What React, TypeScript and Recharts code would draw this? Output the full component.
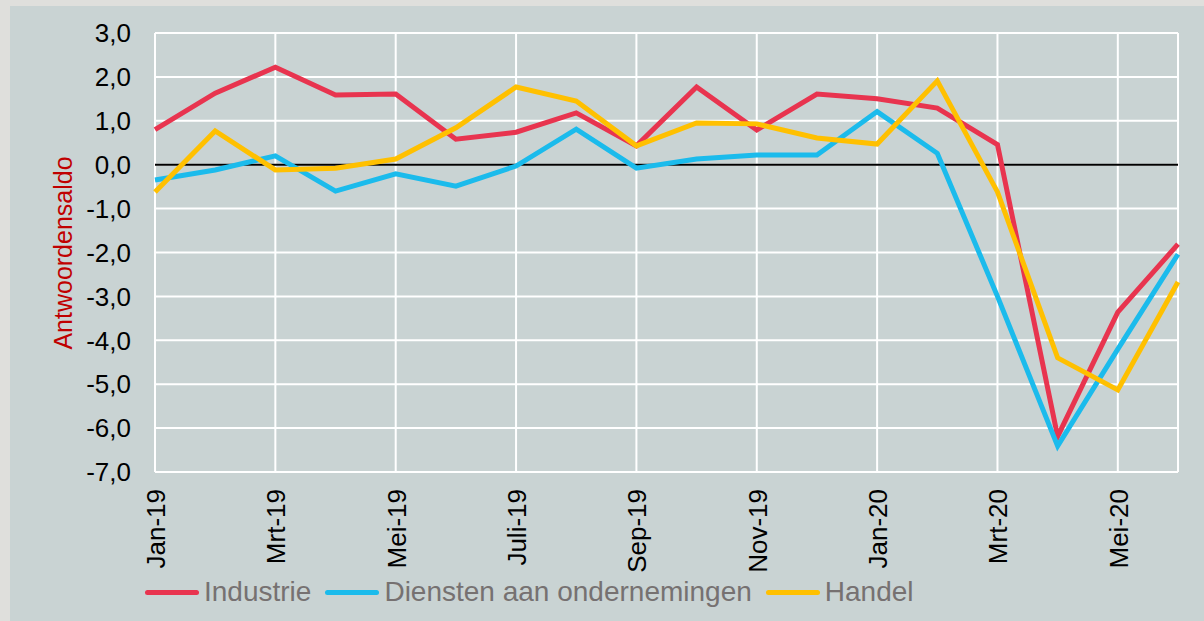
import { LineChart, Line, XAxis, YAxis, CartesianGrid, ReferenceLine } from 'recharts';

const months = [
  'Jan-19', 'Feb-19', 'Mrt-19', 'Apr-19', 'Mei-19', 'Jun-19', 'Juli-19', 'Aug-19', 'Sep-19',
  'Okt-19', 'Nov-19', 'Dec-19', 'Jan-20', 'Feb-20', 'Mrt-20', 'Apr-20', 'Mei-20', 'Jun-20',
];
const industrie = [0.8, 1.63, 2.22, 1.59, 1.61, 0.58, 0.74, 1.18, 0.43, 1.77, 0.79, 1.61, 1.5, 1.29, 0.46, -6.19, -3.36, -1.81];
const diensten = [-0.35, -0.12, 0.2, -0.6, -0.21, -0.49, -0.03, 0.81, -0.08, 0.13, 0.22, 0.22, 1.21, 0.26, -3.0, -6.41, -4.2, -2.04];
const handel = [-0.62, 0.77, -0.12, -0.08, 0.13, 0.84, 1.77, 1.45, 0.43, 0.95, 0.93, 0.61, 0.47, 1.91, -0.62, -4.4, -5.13, -2.67];
const yTicks = [-7, -6, -5, -4, -3, -2, -1, 0, 1, 2, 3];

const series = [
  { key: 'industrie', name: 'Industrie', color: '#e8344f' },
  { key: 'diensten', name: 'Diensten aan ondernemingen', color: '#1bbbec' },
  { key: 'handel', name: 'Handel', color: '#ffc000' },
];

const data = months.map((m, i) => ({
  month: m,
  industrie: industrie[i],
  diensten: diensten[i],
  handel: handel[i],
}));

const FONT = '"Liberation Sans", Arial, sans-serif';

// rotated month label, reading bottom to top
function MonthTick(props: any) {
  const { x, y, payload } = props;
  const tx = x + 10;
  const ty = y + 9;
  return (
    <text
      x={tx}
      y={ty}
      transform={`rotate(-90, ${tx}, ${ty})`}
      textAnchor="end"
      fill="#000"
      fontSize={26}
      fontFamily={FONT}
    >
      {payload.value}
    </text>
  );
}

export default function App() {
  return (
    <div style={{ position: 'absolute', left: 0, top: 0, width: 1204, height: 621, background: '#dfdfdc' }}>
      <div style={{ position: 'absolute', left: 10, top: 6, width: 1194, height: 615, background: '#c9d3d3' }} />
      <div style={{ position: 'absolute', left: 0, top: 0 }}>
        <LineChart width={1204} height={621} data={data} margin={{ top: 33, right: 26, left: 0, bottom: 0 }}>
          <CartesianGrid stroke="#ffffff" strokeWidth={2} />
          <XAxis
            dataKey="month"
            interval={1}
            axisLine={false}
            tickLine={false}
            height={149}
            tick={<MonthTick />}
          />
          <YAxis
            domain={[-7, 3]}
            ticks={yTicks}
            width={155}
            axisLine={false}
            tickLine={false}
            tickMargin={18}
            tick={{ fill: '#000', fontSize: 26, fontFamily: FONT }}
            tickFormatter={(v: number) => v.toFixed(1).replace('.', ',')}
            label={{
              content: () => (
                <text
                  x={72}
                  y={253}
                  transform="rotate(-90, 72, 253)"
                  textAnchor="middle"
                  fill="#c00000"
                  fontSize={25}
                  fontFamily={FONT}
                >
                  Antwoordensaldo
                </text>
              ),
            }}
          />
          <ReferenceLine y={0} stroke="#000" strokeWidth={2} />
          {series.map((s) => (
            <Line
              key={s.key}
              dataKey={s.key}
              name={s.name}
              type="linear"
              stroke={s.color}
              strokeWidth={5}
              dot={false}
              isAnimationActive={false}
            />
          ))}
        </LineChart>
      </div>
      <div
        style={{
          position: 'absolute',
          left: 145,
          top: 576,
          display: 'flex',
          alignItems: 'center',
          fontFamily: FONT,
          fontSize: 28,
          color: '#767171',
        }}
      >
        {series.map((s) => (
          <div key={s.key} style={{ display: 'flex', alignItems: 'center', marginRight: 14 }}>
            <span style={{ display: 'inline-block', width: 54, height: 5, borderRadius: 3, background: s.color, marginRight: 5 }} />
            <span>{s.name}</span>
          </div>
        ))}
      </div>
    </div>
  );
}
